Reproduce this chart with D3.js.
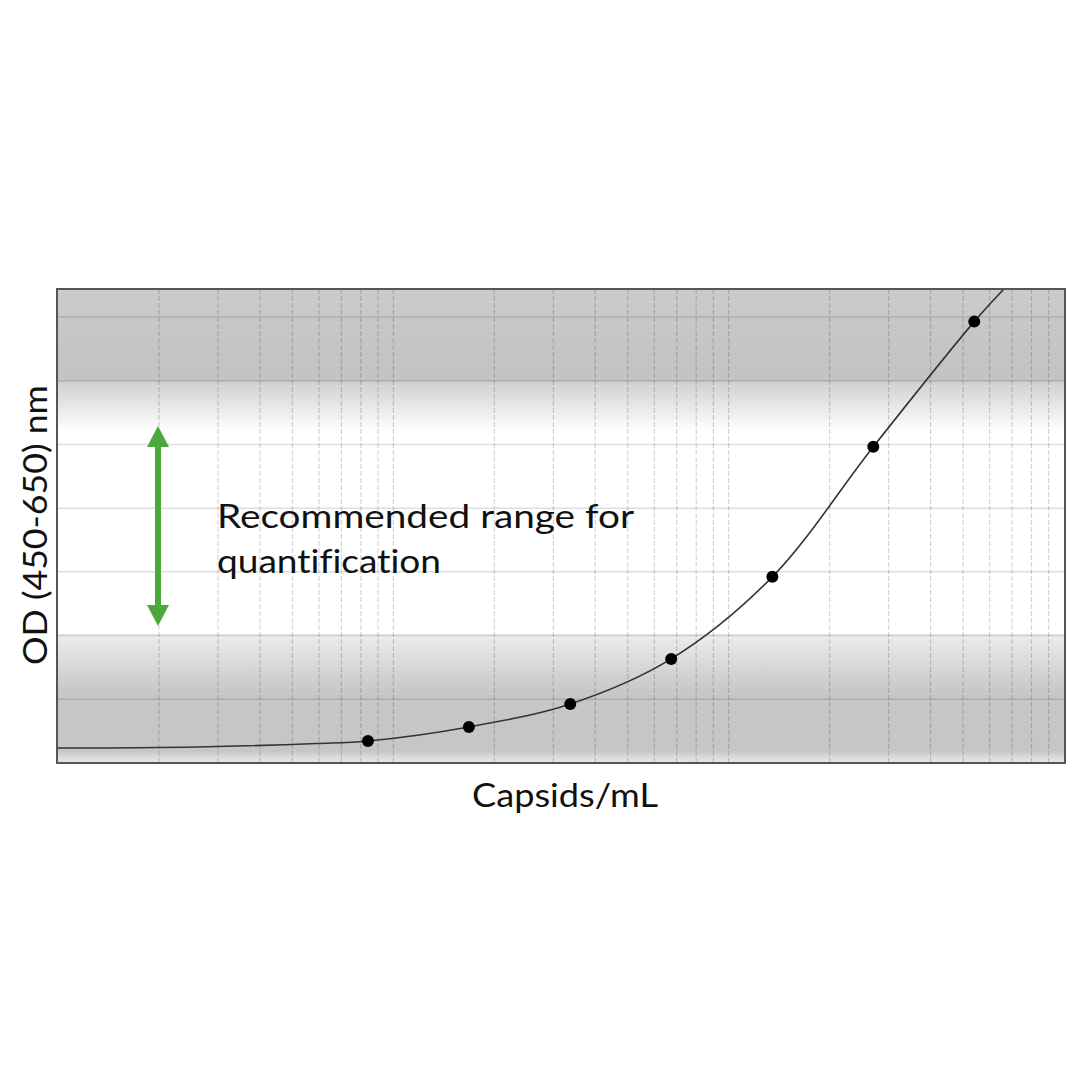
<!DOCTYPE html>
<html>
<head>
<meta charset="utf-8">
<script src="https://cdn.jsdelivr.net/npm/d3@7"></script>
<style>
  body { margin: 0; background: #fff; }
  text { font-family: "Lato", "DejaVu Sans", sans-serif; fill: #111; font-variant-ligatures: none; }
</style>
</head>
<body>
<script>
// standard dilution series (capsids/mL) and measured OD
var standardConc = [8.4e7, 1.68e8, 3.37e8, 6.74e8, 1.35e9, 2.7e9, 5.4e9];
var standardOD = [0.173, 0.283, 0.463, 0.817, 1.461, 2.482, 3.464];

// fitted curve
var fitConc = [1e7, 2.6e7, 5.9e7, 8.4e7, 1.68e8, 3.37e8, 6.74e8, 1.35e9, 2.7e9, 5.4e9, 6.62e9];
var fitOD = [0.118, 0.126, 0.153, 0.173, 0.283, 0.463, 0.817, 1.461, 2.482, 3.464, 3.72];

var odTicks = [0.5, 1, 1.5, 2, 2.5, 3, 3.5];
var rangeOD = [1.075, 2.645];

var annotationLines = ["Recommended range for", "quantification"];
var xLabel = "Capsids/mL";
var yLabel = "OD (450-650) nm";

var W = 1080, H = 1080;
var plotL = 57, plotR = 1065, plotT = 289, plotB = 763;

var svg = d3
  .select("body")
  .append("svg")
  .attr("width", W)
  .attr("height", H);

var x = d3.scaleLog().domain([1e7, 1e10]).range([plotL + 1, plotR - 1]);
var y = d3.scaleLinear().domain([0, 3.72]).range([plotB, plotT]);

// background bands
var defs = svg.append("defs");
var grad = defs
  .append("linearGradient")
  .attr("id", "bg")
  .attr("x1", 0).attr("x2", 0).attr("y1", 0).attr("y2", 1);
var stops = [
  [0, "#cbcbcb"], [0.1, "#c6c6c6"], [0.19, "#c3c3c3"], [0.2, "#d2d2d2"],
  [0.3, "#ffffff"], [0.725, "#ffffff"], [0.73, "#ececec"], [0.85, "#c7c7c7"],
  [0.975, "#c6c6c6"], [0.99, "#dedede"], [1, "#e4e4e4"]
];
stops.forEach(function(s) {
  grad.append("stop").attr("offset", s[0]).attr("stop-color", s[1]);
});

svg.append("rect")
  .attr("x", plotL).attr("y", plotT)
  .attr("width", plotR - plotL).attr("height", plotB - plotT)
  .attr("fill", "url(#bg)");

// grid
var gridX = [];
[1e7, 1e8, 1e9].forEach(function(dec) {
  for (var k = 1; k <= 9; k++) gridX.push(dec * k);
});
gridX = gridX.filter(function(v) { return v > 1e7; });

svg.append("g")
  .selectAll("line")
  .data(gridX)
  .enter()
  .append("line")
  .attr("x1", d => x(d)).attr("x2", d => x(d))
  .attr("y1", plotT).attr("y2", plotB)
  .attr("stroke", "rgba(0,0,0,0.17)")
  .attr("stroke-width", 1.2)
  .attr("stroke-dasharray", "5,2");

svg.append("g")
  .selectAll("line")
  .data(odTicks)
  .enter()
  .append("line")
  .attr("x1", plotL).attr("x2", plotR)
  .attr("y1", d => y(d)).attr("y2", d => y(d))
  .attr("stroke", "rgba(0,0,0,0.13)")
  .attr("stroke-width", 1.5);

// clip for the curve
defs.append("clipPath").attr("id", "plot")
  .append("rect")
  .attr("x", plotL).attr("y", plotT)
  .attr("width", plotR - plotL).attr("height", plotB - plotT);

var fit = fitConc.map(function(c, i) { return { c: c, od: fitOD[i] }; });
var line = d3.line()
  .x(d => x(d.c))
  .y(d => y(d.od))
  .curve(d3.curveCatmullRom.alpha(0.5));

svg.append("path")
  .datum(fit)
  .attr("clip-path", "url(#plot)")
  .attr("d", line)
  .attr("fill", "none")
  .attr("stroke", "#333")
  .attr("stroke-width", 1.6);

svg.append("g")
  .selectAll("circle")
  .data(standardConc)
  .enter()
  .append("circle")
  .attr("cx", d => x(d))
  .attr("cy", (d, i) => y(standardOD[i]))
  .attr("r", 6)
  .attr("fill", "#000");

// frame
svg.append("rect")
  .attr("x", plotL).attr("y", plotT)
  .attr("width", plotR - plotL).attr("height", plotB - plotT)
  .attr("fill", "none")
  .attr("stroke", "#555")
  .attr("stroke-width", 2);

// green range arrow
var ax = 158;
var ya = y(rangeOD[1]), yb = y(rangeOD[0]);
var green = "#4ca83c";
svg.append("line")
  .attr("x1", ax).attr("x2", ax)
  .attr("y1", ya + 15).attr("y2", yb - 15)
  .attr("stroke", green)
  .attr("stroke-width", 6);
svg.append("path")
  .attr("d", "M" + ax + "," + ya + "L" + (ax + 11) + "," + (ya + 21) + "L" + (ax - 11) + "," + (ya + 21) + "Z")
  .attr("fill", green);
svg.append("path")
  .attr("d", "M" + ax + "," + yb + "L" + (ax + 11) + "," + (yb - 21) + "L" + (ax - 11) + "," + (yb - 21) + "Z")
  .attr("fill", green);

// annotation
var annWidths = [417, 224];
svg.append("g")
  .selectAll("text")
  .data(annotationLines)
  .enter()
  .append("text")
  .attr("x", 217)
  .attr("y", (d, i) => 528 + i * 45)
  .attr("font-size", 33)
  .attr("textLength", (d, i) => annWidths[i])
  .attr("lengthAdjust", "spacingAndGlyphs")
  .text(d => d);

// axis labels
svg.append("text")
  .attr("x", 472)
  .attr("y", 807)
  .attr("font-size", 32)
  .attr("textLength", 186)
  .attr("lengthAdjust", "spacingAndGlyphs")
  .text(xLabel);

svg.append("text")
  .attr("transform", "translate(47,665) rotate(-90)")
  .attr("x", 0)
  .attr("y", 0)
  .attr("font-size", 32)
  .attr("textLength", 280)
  .attr("lengthAdjust", "spacingAndGlyphs")
  .text(yLabel);
</script>
</body>
</html>
